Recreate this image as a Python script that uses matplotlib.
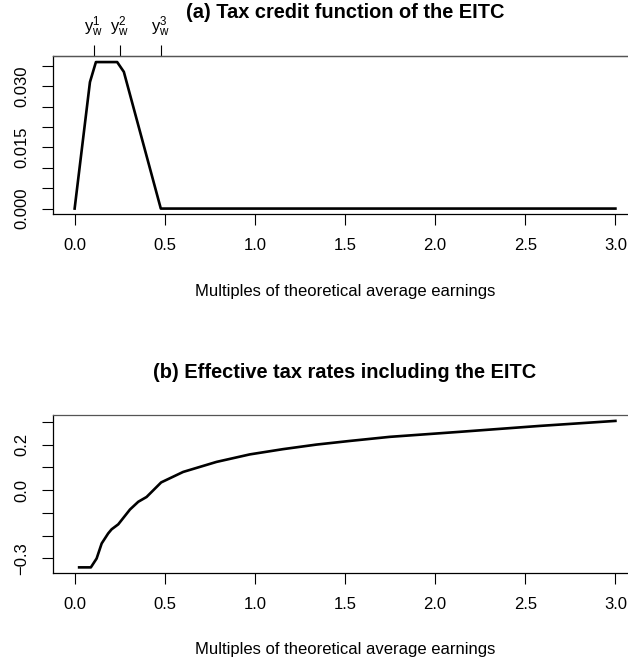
import matplotlib
matplotlib.use("Agg")
import matplotlib.pyplot as plt

plt.rcParams['font.family'] = ['Liberation Sans', 'DejaVu Sans']
plt.rcParams['mathtext.fontset'] = 'custom'
plt.rcParams['mathtext.rm'] = 'Liberation Sans'
plt.rcParams['mathtext.it'] = 'Liberation Sans'

# (a) tax credit as a function of earnings
credit_x = [0.0, 0.085, 0.118, 0.236, 0.273, 0.478, 3.0]
credit_y = [0.0, 0.031, 0.0359, 0.0359, 0.0335, 0.0, 0.0]

# kink points of the credit schedule (top axis)
kink_x = [0.105, 0.251, 0.478]
kink_labels = [r'$\mathrm{y}_\mathrm{w}^1$', r'$\mathrm{y}_\mathrm{w}^2$', r'$\mathrm{y}_\mathrm{w}^3$']

# (b) effective tax rate including the credit
rate_x = [0.025, 0.09, 0.122, 0.15, 0.186, 0.205, 0.242, 0.307, 0.353, 0.399,
          0.480, 0.602, 0.787, 0.972, 1.156, 1.341, 1.526, 1.748, 2.136, 2.580,
          3.0]
rate_y = [-0.339, -0.339, -0.30, -0.234, -0.190, -0.172, -0.150, -0.085, -0.051,
          -0.030, 0.034, 0.080, 0.124, 0.157, 0.180, 0.200, 0.216, 0.234, 0.256,
          0.282, 0.304]

x_ticks = [0.0, 0.5, 1.0, 1.5, 2.0, 2.5, 3.0]
credit_ticks = [0.0, 0.005, 0.010, 0.015, 0.020, 0.025, 0.030, 0.035]
credit_ticklabels = ['0.000', '', '', '0.015', '', '', '0.030', '']
rate_ticks = [-0.3, -0.2, -0.1, 0.0, 0.1, 0.2, 0.3]
rate_ticklabels = ['\u22120.3', '', '', '0.0', '', '0.2', '']

xlab = "Multiples of theoretical average earnings"


def style_axes(ax):
    for s in ['left', 'bottom', 'right']:
        ax.spines[s].set_linewidth(0.9)
        ax.spines[s].set_color('black')
    ax.spines['top'].set_linewidth(0.9)
    ax.spines['top'].set_color('#555555')
    ax.tick_params(axis='both', length=8, width=0.8, labelsize=12, pad=9)
    ax.tick_params(axis='y', labelrotation=90)
    ax.set_xticks(x_ticks)
    ax.set_xticklabels(['%.1f' % v for v in x_ticks])
    ax.set_xlim(-0.12, 3.12)
    ax.set_xlabel(xlab, fontsize=12, labelpad=22)


fig = plt.figure(figsize=(6.28, 6.66), dpi=100)

ax1 = fig.add_axes([0.0844, 0.678, 0.930, 0.238])
ax1.plot(credit_x, credit_y, color='black', linewidth=1.9)
ax1.set_ylim(-0.00144, 0.0374)
ax1.set_yticks(credit_ticks)
ax1.set_yticklabels(credit_ticklabels)
style_axes(ax1)
for t in ax1.get_yticklabels():
    t.set_va('center')

top = ax1.secondary_xaxis('top')
top.set_xticks(kink_x)
top.set_xticklabels(kink_labels)
top.tick_params(length=8, width=0.8, labelsize=12, pad=4)
top.spines['top'].set_color('#555555')
top.spines['top'].set_linewidth(0.9)

ax1.text(0.5, 1.238, "(a) Tax credit function of the EITC", transform=ax1.transAxes,
         ha='center', va='baseline', fontsize=14.4, fontweight='bold')

ax2 = fig.add_axes([0.0844, 0.1392, 0.930, 0.2377])
ax2.plot(rate_x, rate_y, color='black', linewidth=1.9)
ax2.set_ylim(-0.365, 0.330)
ax2.set_yticks(rate_ticks)
ax2.set_yticklabels(rate_ticklabels)
style_axes(ax2)
for t in ax2.get_yticklabels():
    t.set_va('center')

ax2.text(0.5, 1.232, "(b) Effective tax rates including the EITC", transform=ax2.transAxes,
         ha='center', va='baseline', fontsize=14.4, fontweight='bold')

fig.savefig("out.png", dpi=100)
